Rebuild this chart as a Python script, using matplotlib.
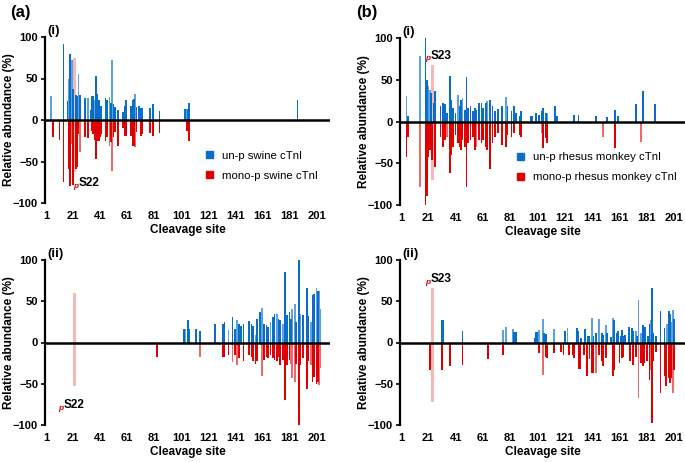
import matplotlib
matplotlib.use("Agg")
import matplotlib.pyplot as plt
from matplotlib.patches import Patch

plt.rcParams['font.family'] = ['Liberation Sans', 'DejaVu Sans']

# ---- data: cleavage site -> relative abundance (%) ----
# dark = main peptide set, light = second (lighter drawn) set
# (a)(i) swine, N-terminal view
ai_up = {14: 92, 17: 23, 19: 79, 21: 37, 23: 30, 24: 29, 26: 30, 30: 27, 34: 12, 35: 29,
         36: 29, 38: 53, 39: 31, 40: 24, 41: 17, 42: 17, 45: 27, 46: 24, 49: 20, 51: 19,
         52: 16, 54: 12, 58: 10, 59: 17, 60: 24, 64: 17, 65: 24, 66: 25, 68: 16, 70: 17,
         71: 15, 72: 15, 78: 15, 80: 19, 85: 11, 104: 13, 106: 13, 107: 20, 187: 24}
ai_up2 = {5: 29, 18: 50, 20: 72, 25: 56, 32: 27, 37: 24, 48: 28, 50: 72, 67: 31, 105: 13}
ai_dn = {6: -21, 11: -24, 14: -75, 18: -59, 19: -79, 21: -78, 23: -59, 24: -57, 25: -17,
         30: -21, 32: -22, 35: -13, 36: -17, 37: -24, 38: -47, 39: -25, 40: -25, 41: -21,
         42: -17, 45: -25, 46: -21, 49: -27, 51: -21, 52: -15, 54: -31, 58: -10, 59: -19,
         60: -19, 64: -19, 65: -31, 66: -31, 68: -15, 71: -19, 72: -17, 78: -16, 80: -19,
         85: -16, 105: -13, 107: -25}
ai_dn2 = {20: -29, 26: -38, 48: -31, 50: -61, 67: -33}
ai_phos = (22, -63, 75)

# (a)(ii) swine, C-terminal view
aii_up = {103: 16, 106: 27, 107: 16, 112: 16, 115: 14, 126: 23, 132: 23, 133: 25, 139: 31,
          141: 16, 144: 23, 145: 20, 147: 22, 151: 26, 153: 23, 154: 20, 157: 29, 159: 37,
          162: 23, 164: 21, 165: 19, 169: 31, 170: 35, 173: 29, 174: 27, 178: 86, 179: 33,
          181: 37, 182: 29, 186: 25, 188: 100, 191: 33, 194: 66, 195: 32, 198: 58, 199: 59,
          202: 62}
aii_up2 = {104: 16, 136: 15, 142: 27, 156: 9, 161: 42, 167: 25, 172: 35, 176: 23, 183: 41,
           185: 47, 189: 34, 197: 25, 201: 66, 203: 62, 204: 41}
aii_dn = {83: -17, 132: -17, 133: -17, 136: -15, 141: -15, 144: -19, 147: -22, 151: -15,
          153: -17, 154: -23, 156: -26, 157: -23, 162: -21, 164: -17, 165: -19, 167: -15,
          169: -19, 170: -21, 172: -23, 173: -17, 174: -27, 176: -21, 178: -70, 179: -27,
          181: -21, 186: -26, 188: -100, 189: -27, 191: -19, 194: -56, 195: -23, 198: -48,
          199: -42, 201: -50, 202: -48}
aii_dn2 = {115: -17, 139: -24, 142: -27, 161: -40, 182: -26, 183: -43, 185: -48, 197: -27,
           203: -52, 204: -31}
aii_phos = (22, -53, 60)

# (b)(i) rhesus monkey, N-terminal view
bi_up = {6: 7, 19: 100, 20: 50, 23: 34, 25: 22, 26: 36, 30: 18, 32: 22, 33: 21, 35: 10,
         37: 55, 38: 26, 39: 16, 41: 10, 44: 18, 45: 26, 48: 14, 49: 53, 50: 16, 52: 18,
         54: 12, 55: 16, 56: 14, 58: 22, 60: 22, 61: 16, 63: 22, 66: 26, 68: 18, 70: 12,
         72: 15, 75: 18, 79: 18, 82: 12, 84: 18, 85: 10, 88: 6, 89: 12, 96: 6, 97: 6,
         100: 10, 102: 8, 104: 12, 105: 16, 107: 10, 114: 18, 115: 7, 128: 8, 131: 8,
         144: 7, 152: 5, 158: 14, 160: 7, 173: 21, 178: 37, 187: 21}
bi_up2 = {5: 30, 15: 79, 21: 42, 22: 38, 43: 32, 46: 28, 64: 24, 78: 29, 108: 10}
bi_dn = {5: -42, 6: -19, 19: -100, 20: -89, 21: -42, 22: -34, 24: -46, 26: -55, 30: -18,
         32: -30, 33: -22, 37: -62, 38: -40, 39: -30, 41: -16, 43: -26, 44: -30, 45: -34,
         46: -22, 48: -30, 49: -79, 50: -26, 52: -22, 54: -18, 55: -34, 58: -22, 60: -26,
         61: -22, 63: -30, 64: -34, 66: -57, 68: -26, 70: -18, 72: -14, 75: -28, 78: -30,
         79: -16, 82: -18, 84: -14, 88: -16, 89: -18, 105: -32, 107: -20, 108: -26,
         158: -32}
bi_dn2 = {15: -78, 35: -18, 56: -30, 104: -14, 149: -18, 177: -25}
bi_phos = (24, -70, 68)

# (b)(ii) rhesus monkey, C-terminal view
bii_up = {31: 27, 32: 27, 46: 14, 84: 13, 85: 13, 99: 6, 100: 13, 101: 13, 106: 11,
          107: 10, 121: 14, 130: 18, 131: 14, 133: 5, 136: 16, 138: 8, 139: 8, 142: 8,
          144: 11, 148: 11, 149: 9, 152: 11, 155: 7, 157: 27, 159: 11, 160: 14, 162: 8,
          163: 15, 164: 8, 165: 9, 168: 19, 170: 18, 171: 14, 174: 8, 178: 21, 179: 19,
          180: 19, 182: 8, 183: 23, 185: 66, 186: 11, 188: 8, 191: 38, 194: 18, 197: 38,
          198: 35, 201: 28}
bii_up2 = {76: 15, 78: 19, 83: 16, 102: 15, 105: 28, 113: 16, 123: 17, 141: 30, 146: 28,
           151: 21, 156: 30, 173: 14, 175: 51, 177: 12, 184: 27, 196: 23, 199: 25, 200: 40}
bii_dn = {22: -33, 31: -33, 37: -29, 46: -27, 65: -20, 76: -15, 102: -13, 107: -17,
          108: -19, 113: -13, 118: -11, 120: -15, 124: -15, 127: -15, 128: -19, 131: -32,
          132: -32, 135: -15, 137: -40, 139: -20, 141: -37, 142: -37, 146: -15, 148: -23,
          149: -28, 151: -19, 156: -41, 157: -33, 161: -25, 163: -19, 164: -17, 169: -23,
          171: -27, 173: -17, 177: -25, 178: -29, 179: -25, 181: -23, 183: -45, 185: -97,
          186: -23, 188: -11, 191: -61, 194: -41, 195: -53, 197: -43, 198: -49, 199: -43,
          201: -33}
bii_dn2 = {105: -39, 144: -37, 175: -67, 184: -33, 200: -61}
bii_phos = (24, -72, 66)

BLUE = "#0a6ec8"
BLUE_LT = "#5aa3e0"
RED = "#e00000"
RED_LT = "#ee6a6a"
PINK = "#f2b9b9"
BW = 1.3  # bar width in sites

fig = plt.figure(figsize=(6.85, 4.62), dpi=100)

W_a = (330 - 45) / 685
W_b = (685 - 400) / 685
panels = [
    # rect, data, xmax, phos label pos, roman, legend, legend x
    ([45 / 685, 1 - 203 / 462, W_a, 166 / 462], ai_up, ai_up2, ai_dn, ai_dn2, ai_phos, 211,
     (25, -76, "S22"), "(i)", ("un-p swine cTnI", "mono-p swine cTnI"), 0.545),
    ([45 / 685, 1 - 425 / 462, W_a, 165 / 462], aii_up, aii_up2, aii_dn, aii_dn2, aii_phos, 211,
     (14, -76, "S22"), "(ii)", None, 0),
    ([400 / 685, 1 - 205 / 462, W_b, 167 / 462], bi_up, bi_up2, bi_dn, bi_dn2, bi_phos, 209,
     (23, 79, "S23"), "(i)", ("un-p rhesus monkey cTnI", "mono-p rhesus monkey cTnI"), 0.39),
    ([400 / 685, 1 - 425 / 462, W_b, 165 / 462], bii_up, bii_up2, bii_dn, bii_dn2, bii_phos, 209,
     (23, 77, "S23"), "(ii)", None, 0),
]

for rect, up, up2, dn, dn2, phos, xmax, plab, roman, leg, legx in panels:
    ax = fig.add_axes(rect)
    ax.bar(phos[0], phos[2] - phos[1], bottom=phos[1], width=2.6, color=PINK, zorder=1)
    ax.bar(list(up2.keys()), list(up2.values()), width=BW, color=BLUE_LT, zorder=2)
    ax.bar(list(up.keys()), list(up.values()), width=BW, color=BLUE, zorder=3)
    ax.bar(list(dn2.keys()), list(dn2.values()), width=BW, color=RED_LT, zorder=2)
    ax.bar(list(dn.keys()), list(dn.values()), width=BW, color=RED, zorder=3)
    ax.axhline(0, color="black", lw=1.8, zorder=4)
    ax.set_xlim(0.3, xmax)
    ax.set_ylim(-100, 100)
    for s in ["top", "right", "bottom"]:
        ax.spines[s].set_visible(False)
    ax.spines["left"].set_linewidth(1.6)
    ax.set_yticks([100, 50, 0, -50, -100])
    ax.set_xticks(list(range(1, 202, 20)))
    ax.tick_params(axis="x", length=0, pad=6, labelsize=8)
    ax.tick_params(axis="y", length=3, width=1.2, labelsize=8, pad=2)
    for lab in ax.get_xticklabels() + ax.get_yticklabels():
        lab.set_fontweight("bold")
    ax.set_ylabel("Relative abundance (%)", fontsize=8.5, fontweight="bold")
    ax.yaxis.set_label_coords(-0.105, 0.5)
    ax.set_xlabel("Cleavage site", fontsize=8.5, fontweight="bold", labelpad=2)
    ax.text(0.01, 1.0, roman, transform=ax.transAxes, fontsize=9.5, fontweight="bold",
            va="bottom", ha="left")
    ax.text(plab[0], plab[1], plab[2], fontsize=8.5, fontweight="bold", ha="left",
            va="center", zorder=5)
    ax.text(plab[0] - 0.3, plab[1] - 4, "p", fontsize=6, color=RED, style="italic",
            fontweight="bold", ha="right", va="center", zorder=5)
    if leg:
        handles = [Patch(color=BLUE), Patch(color=RED)]
        ax.legend(handles, leg, loc="upper left", bbox_to_anchor=(legx, 0.35),
                  frameon=False, fontsize=8.2, handlelength=0.6, handleheight=0.6,
                  handletextpad=0.8, labelspacing=0.9, borderpad=0)

fig.text(10 / 685, 1 - 12 / 462, "(a)", fontsize=12, fontweight="bold", va="center")
fig.text(356 / 685, 1 - 12 / 462, "(b)", fontsize=12, fontweight="bold", va="center")

fig.savefig("out.png", dpi=100)
